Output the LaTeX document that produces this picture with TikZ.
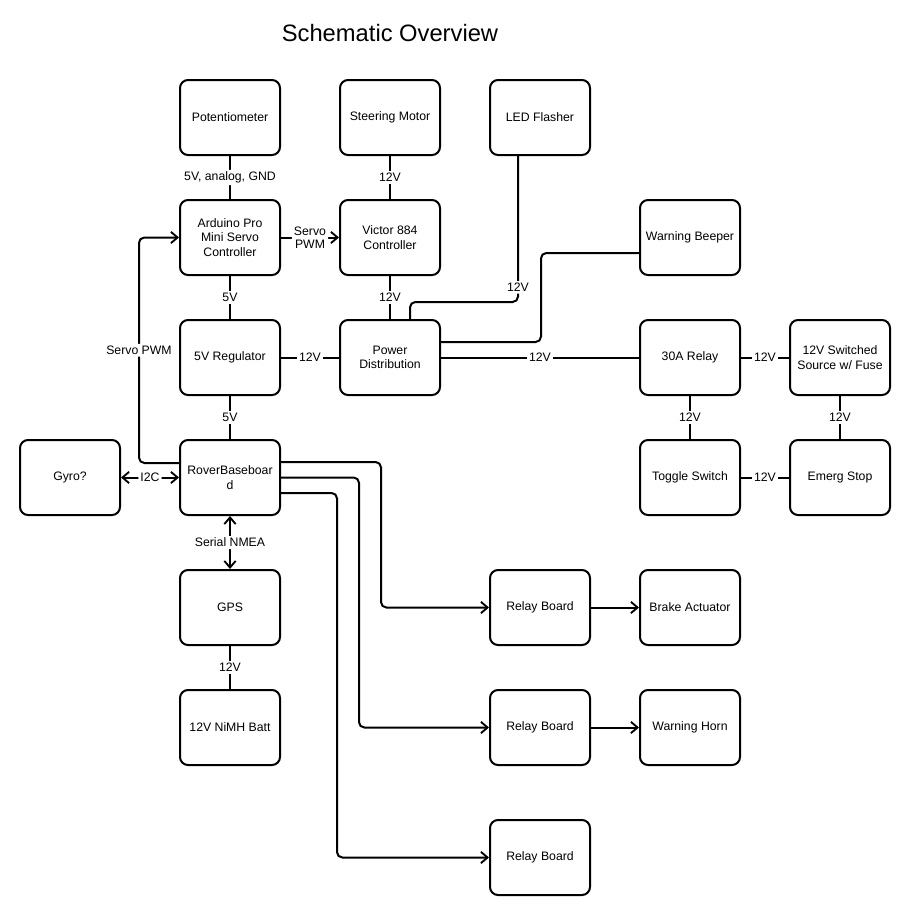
\documentclass[tikz,border=0pt]{standalone}
\usepackage{fontspec}
\setmainfont{Liberation Sans}
\usetikzlibrary{arrows.meta,calc}

\tikzset{
  box/.style={draw, line width=1.5pt, rounded corners=6pt, minimum width=75pt,
    minimum height=56.25pt, inner sep=0pt, align=center, font=\fontsize{9.2}{10.8}\selectfont},
  wire/.style={line width=1.5pt, rounded corners=4pt},
  lbl/.style={fill=white, inner sep=1.5pt, align=center, font=\fontsize{9.2}{10}\selectfont},
  tip/.style={-{Straight Barb[length=5pt,width=8.5pt,line width=1.4pt]}},
  tips/.style={{Straight Barb[length=5pt,width=8.5pt,line width=1.4pt]}-{Straight Barb[length=5pt,width=8.5pt,line width=1.4pt]}}
}

\begin{document}
\begin{tikzpicture}[x=0.75pt, y=-0.75pt]
    \useasboundingbox (0,0) rectangle (910,915);

    % Title
    \node (title) at (390,33) {\fontsize{17.8}{21}\selectfont Schematic Overview};

    % Top row
    \node[box] (pot) at (230,117.5) {Potentiometer};
    \node[box] (steer) at (390,117.5) {Steering Motor};
    \node[box] (led) at (540,117.5) {LED Flasher};

    % Controllers
    \node[box] (ard) at (230,237.5) {Arduino Pro\\Mini Servo\\Controller};
    \node[box] (vic) at (390,237.5) {Victor 884\\Controller};
    \node[box] (beep) at (690,237.5) {Warning Beeper};

    % Power
    \node[box] (reg) at (230,357.5) {5V Regulator};
    \node[box] (pd) at (390,357.5) {Power\\Distribution};
    \node[box] (relay) at (690,357.5) {30A Relay};
    \node[box] (src) at (840,357.5) {12V Switched\\Source w/ Fuse};

    % Baseboard row
    \node[box] (gyro) at (70,477.5) {Gyro?};
    \node[box] (rover) at (230,477.5) {RoverBaseboar\\d};
    \node[box] (tog) at (690,477.5) {Toggle Switch};
    \node[box] (estop) at (840,477.5) {Emerg Stop};

    % Lower part
    \node[box] (gps) at (230,607.5) {GPS};
    \node[box] (batt) at (230,727.5) {12V NiMH Batt};
    \node[box] (rb1) at (540,607.5) {Relay Board};
    \node[box] (brake) at (690,607.5) {Brake Actuator};
    \node[box] (rb2) at (540,727.5) {Relay Board};
    \node[box] (horn) at (690,727.5) {Warning Horn};
    \node[box] (rb3) at (540,857.5) {Relay Board};

    % Plain labelled links
    \foreach \a/\b/\t in {pot/ard/{5V, analog, GND}, steer/vic/12V, ard/reg/5V,
        vic/pd/12V, reg/rover/5V, gps/batt/12V, relay/tog/12V, src/estop/12V} {
        \draw[wire] (\a) -- node[lbl] {\t} (\b);
    }
    \foreach \a/\b in {pd/reg, relay/src, tog/estop} {
        \draw[wire] (\a) -- node[lbl] {12V} (\b);
    }
    \draw[wire] (pd) -- node[lbl] {12V} (relay);

    % Signals
    \draw[wire, tip] (ard) -- node[lbl] {Servo\\PWM} (vic);
    \draw[wire, tips] (gyro) -- node[lbl] {I2C} (rover);
    \draw[wire, tips] (rover) -- node[lbl] {Serial NMEA} (gps);
    \draw[wire, tip] ($(rover.west)+(0,-14.5)$) -- ++(-40,0)
        |- node[lbl, pos=0.25] {Servo PWM} (ard.west);

    % Power to flasher and beeper
    \draw[wire] ($(led.south)+(-22,0)$) |- node[lbl, pos=0.45] {12V}
        ($(pd.north)+(20,-17)$) -- ($(pd.north)+(20,0)$);
    \draw[wire] ($(pd.east)+(0,-15.5)$) -- ++(100,0) |- ($(beep.west)+(0,15.5)$);

    % Baseboard to relay boards
    \draw[wire, tip] ($(rover.east)+(0,-15.5)$) -| ($(rb1.west)+(-108,0)$) -- (rb1.west);
    \draw[wire, tip] (rover.east) -| ($(rb2.west)+(-130,0)$) -- (rb2.west);
    \draw[wire, tip] ($(rover.east)+(0,15.5)$) -| ($(rb3.west)+(-152,0)$) -- (rb3.west);
    \draw[wire, tip] (rb1) -- (brake);
    \draw[wire, tip] (rb2) -- (horn);

\end{tikzpicture}
\end{document}
